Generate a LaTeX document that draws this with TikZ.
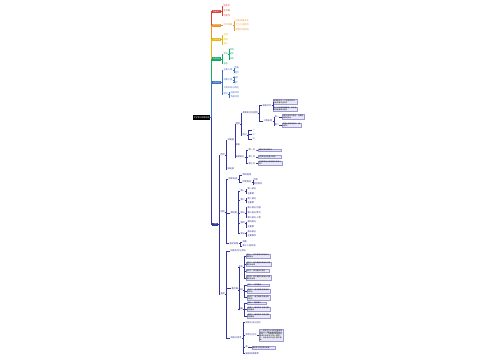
\documentclass[tikz,border=0pt]{standalone}
\usepackage{fontspec}
\setmainfont{Noto Sans CJK SC}
\XeTeXlinebreaklocale "zh"
\XeTeXlinebreakskip=0pt plus 0.5pt
\definecolor{redc}{HTML}{D9413A}
\definecolor{orangec}{HTML}{F0932B}
\definecolor{yellowc}{HTML}{E5B50B}
\definecolor{greenc}{HTML}{14A866}
\definecolor{bluec}{HTML}{3A6FC4}
\definecolor{navyc}{HTML}{33369A}
\definecolor{boxf}{HTML}{E9E9F8}
\definecolor{boxd}{HTML}{9A9AD6}
\newcommand\con[3]{\foreach \c in {#3}{\draw[line width=0.3pt,#1] (#2.east) -- ++(1,0) |- (\c.west);}}
\begin{document}
\begin{tikzpicture}[x=1pt,y=-1pt,
  lab/.style={inner sep=0.3pt,anchor=west,font=\fontsize{2.2}{2.4}\selectfont},
  brbox/.style={anchor=west,fill=#1,text=white,minimum width=8.5pt,minimum height=3.4pt,inner sep=0.3pt,font=\fontsize{1.8}{2}\selectfont},
  bx/.style={anchor=west,draw=boxd,fill=boxf,line width=0.2pt,text width=#1,align=left,inner sep=0.4pt,font=\fontsize{1.7}{1.95}\selectfont},
  nv/.style={lab,text=navyc}]
\useasboundingbox (0,0) rectangle (500,360);
\fill[white] (0,0) rectangle (500,360);
% root
\node[fill=black,text=white,minimum width=17pt,minimum height=4.5pt,inner sep=0.3pt,font=\fontsize{2}{2.2}\selectfont] (root) at (201.5,117.3) {文学常识思维导图};
% branches
\node[brbox=redc] (R) at (212,11.5) {作者简介};
\node[brbox=orangec] (O) at (212,25.3) {创作背景};
\node[brbox=yellowc] (Y) at (212,39.5) {主旨思想};
\node[brbox=greenc] (G) at (212,59) {艺术特色};
\node[brbox=bluec] (B) at (212,82.5) {人物形象};
\node[brbox=navyc,minimum width=6pt] (N) at (212,224.3) {内容};
\draw[line width=0.35pt,navyc] (root.east) -- ++(1,0) |- (N.west);
\foreach \b/\cl in {R/redc,O/orangec,Y/yellowc,G/greenc,B/bluec}{\draw[line width=0.35pt,\cl] (root.east) -- ++(1,0) |- (\b.west);}
% red
\node[lab,text=redc] (R1) at (223,5.7) {姓名字};
\node[lab,text=redc] (R2) at (223,10.7) {生平事};
\node[lab,text=redc] (R3) at (223,15.3) {代表作};
\con{redc}{R}{R1,R2,R3}
% orange
\node[lab,text=orangec] (O1) at (223,25) {时代背景};
\node[lab,text=orangec] (O1a) at (235,20.7) {社会环境变化};
\node[lab,text=orangec] (O1b) at (235,25) {个人人生经历};
\node[lab,text=orangec] (O1c) at (235,30) {思想文化影响};
\con{orangec}{O}{O1}
\con{orangec}{O1}{O1a,O1b,O1c}
% yellow
\node[lab,text=yellowc] (Y1) at (223,34.7) {主题};
\node[lab,text=yellowc] (Y2) at (223,39.3) {情感};
\node[lab,text=yellowc] (Y3) at (223,44) {意义};
\con{yellowc}{Y}{Y1,Y2,Y3}
% green
\node[lab,text=greenc] (G1) at (223,54) {手法};
\node[lab,text=greenc] (G1a) at (229,49.3) {修辞};
\node[lab,text=greenc] (G1b) at (229,54) {描写};
\node[lab,text=greenc] (G1c) at (229,58.7) {结构};
\node[lab,text=greenc] (G2) at (223,63.3) {语言};
\con{greenc}{G}{G1,G2}
\con{greenc}{G1}{G1a,G1b,G1c}
% blue
\node[lab,text=bluec] (B1) at (223,70) {主要人物};
\node[lab,text=bluec] (B1a) at (234,67.7) {性格};
\node[lab,text=bluec] (B1b) at (234,72.3) {经历};
\node[lab,text=bluec] (B2) at (223,80) {次要人物};
\node[lab,text=bluec] (B2a) at (233,77.3) {作用};
\node[lab,text=bluec] (B2b) at (233,82.3) {特点};
\node[lab,text=bluec] (B3) at (223,87.3) {人物关系与命运};
\node[lab,text=bluec] (B4) at (223,94) {评价};
\node[lab,text=bluec] (B4a) at (230,92.3) {正面评价};
\node[lab,text=bluec] (B4b) at (230,96.7) {负面评价};
\con{bluec}{B}{B1,B2,B3,B4}
\con{bluec}{B1}{B1a,B1b}
\con{bluec}{B2}{B2a,B2b}
\con{bluec}{B4}{B4a,B4b}
% navy: A
\node[nv] (A) at (220,155) {情节};
\node[nv] (A1) at (227,140) {开端部};
\node[nv] (A1a) at (235,124) {起因};
\node[nv] (A1a1) at (242,113) {故事发生的起因};
\node[nv] (A1a1a) at (262,105.5) {背景交代};
\node[bx=23.5pt] (A1a1a1) at (273,101.7) {故事发生在一个动荡的年代，社会矛盾日益尖锐};
\node[bx=23.5pt] (A1a1a2) at (273,109.3) {主人公出身普通家庭，自幼经历种种磨难与考验};
\node[nv] (A1a1b) at (263,121) {人物出场};
\node[nv] (A1a1b1) at (274,116.7) {其一};
\node[nv] (A1a1b2) at (274,124.8) {其二};
\node[bx=21pt] (A1a1b1x) at (282,116.7) {主要人物依次登场，性格特点鲜明突出};
\node[bx=18pt] (A1a1b2x) at (282,124.8) {次要人物穿插其间，推动情节};
\node[nv] (A1a2) at (242,135) {经过};
\node[nv] (A1a2a) at (252,130) {一};
\node[nv] (A1a2b) at (252,134.5) {二};
\node[nv] (A1a2c) at (252,139) {三};
\node[nv] (A1b) at (235,145) {发展};
\node[nv] (A1c) at (235,157) {高潮部分};
\node[nv] (A1c1) at (248,150) {第一点};
\node[nv] (A1c2) at (248,156.7) {第二点};
\node[nv] (A1c3) at (248,163.3) {第三点};
\node[bx=22pt] (A1c1x) at (258,150) {矛盾冲突达到顶点};
\node[bx=22pt] (A1c2x) at (258,156.7) {人物命运发生重大转折};
\node[bx=23pt] (A1c3x) at (258,163.3) {主题思想在此得到集中体现与升华};
\node[nv] (A2) at (227,169) {结局部};
\con{navyc}{N}{A}
\con{navyc}{A}{A1,A2}
\con{navyc}{A1}{A1a,A1b,A1c}
\con{navyc}{A1a}{A1a1,A1a2}
\con{navyc}{A1a1}{A1a1a,A1a1b}
\con{navyc}{A1a1a}{A1a1a1,A1a1a2}
\con{navyc}{A1a1b}{A1a1b1,A1a1b2}
\con{navyc}{A1a1b1}{A1a1b1x}
\con{navyc}{A1a1b2}{A1a1b2x}
\con{navyc}{A1a2}{A1a2a,A1a2b,A1a2c}
\con{navyc}{A1c}{A1c1,A1c2,A1c3}
\con{navyc}{A1c1}{A1c1x}
\con{navyc}{A1c2}{A1c2x}
\con{navyc}{A1c3}{A1c3x}
% navy: Bn
\node[nv] (Bn) at (220,211.7) {结构};
\node[nv] (Bn1) at (228,178.7) {线索安排};
\node[nv] (Bn1a) at (242,175) {明线暗线};
\node[nv] (Bn1b) at (242,182) {伏笔照应};
\node[nv] (Bn1b1) at (253,180) {伏笔};
\node[nv] (Bn1b2) at (253,184) {前后照应};
\node[nv] (Bn2) at (230,212.7) {章回制};
\node[nv] (Bn2a) at (240,191) {第一};
\node[nv] (Bn2a1) at (247,189) {第一部分};
\node[nv] (Bn2a2) at (247,193.5) {主要事};
\node[nv] (Bn2b) at (240,200) {第二};
\node[nv] (Bn2b1) at (247,198.3) {第二部分};
\node[nv] (Bn2b2) at (247,202.5) {主要事};
\node[nv] (Bn2c) at (240,212.7) {第三};
\node[nv] (Bn2c1) at (247,207.5) {第三部分内容};
\node[nv] (Bn2c2) at (247,212.7) {第三部分情节};
\node[nv] (Bn2c3) at (247,217.5) {第三部分人物};
\node[nv] (Bn2d) at (240,222.7) {第四};
\node[nv] (Bn2d1) at (247,221.7) {第四部分};
\node[nv] (Bn2d2) at (247,226.7) {主要事};
\node[nv] (Bn2e) at (240,233.3) {第五};
\node[nv] (Bn2e1) at (247,231.7) {第五部分};
\node[nv] (Bn2e2) at (247,235.7) {主要事件};
\node[nv] (Bn3) at (229,243.3) {叙述视角};
\node[nv] (Bn3a) at (242,241.7) {视角};
\node[nv] (Bn3b) at (242,245.7) {第三人称叙述};
\con{navyc}{N}{Bn}
\con{navyc}{Bn}{Bn1,Bn2,Bn3}
\con{navyc}{Bn1}{Bn1a,Bn1b}
\con{navyc}{Bn1b}{Bn1b1,Bn1b2}
\con{navyc}{Bn2}{Bn2a,Bn2b,Bn2c,Bn2d,Bn2e}
\con{navyc}{Bn2a}{Bn2a1,Bn2a2}
\con{navyc}{Bn2b}{Bn2b1,Bn2b2}
\con{navyc}{Bn2c}{Bn2c1,Bn2c2,Bn2c3}
\con{navyc}{Bn2d}{Bn2d1,Bn2d2}
\con{navyc}{Bn2e}{Bn2e1,Bn2e2}
\con{navyc}{Bn3}{Bn3a,Bn3b}
% navy: D
\node[nv] (D) at (220,294) {鉴赏};
\node[nv] (C) at (230,251) {经典名句与赏析};
\node[nv] (D2) at (231,288.3) {重点篇};
\node[nv] (D2a) at (238,267) {名句};
\node[bx=23pt] (D2a1) at (246,256) {名句一：原文摘录及其出处与简要赏析};
\node[bx=24pt] (D2a2) at (246,264.3) {名句二：原文摘录及其出处与简要赏析说明};
\node[bx=22pt] (D2a3) at (246,270.7) {名句三：原文摘录与赏析};
\node[bx=24pt] (D2a4) at (246,277.7) {名句四：原文摘录及其出处与简要赏析说明};
\node[nv] (D2b) at (238,290) {名段};
\node[bx=21pt] (D2b1) at (247,285) {名段一：原文摘录};
\node[bx=22pt] (D2b2) at (247,291) {名段二：原文摘录及其出处与赏析};
\node[bx=22pt] (D2b3) at (247,297.5) {名段三：原文摘录及其出处与赏析};
\node[nv] (D2c) at (238,309) {名篇};
\node[bx=18pt] (D2c1) at (247,303.3) {名篇一：篇目简介};
\node[bx=22pt] (D2c2) at (247,309.3) {名篇二：篇目简介及其主要内容概述};
\node[bx=22pt] (D2c3) at (247,316) {名篇三：篇目简介及其主要内容概述};
\node[nv] (E) at (230,338) {阅读与思考};
\node[nv] (E1) at (245,322.5) {阅读方法与技巧};
\node[nv] (E2) at (245,335) {思考与讨论};
\node[bx=23pt] (E2x) at (259,335.3) {一、作品中主人公的性格有哪些特点？请结合具体情节加以分析。二、作品是如何通过环境描写来烘托人物心理的？三、谈谈你对作品主题的理解。};
\node[nv] (E3) at (245,347) {练};
\node[bx=22pt] (E3x) at (252,347.5) {课后练习题及参考答案};
\node[nv] (E4) at (245,353.3) {拓展阅读推荐};
\con{navyc}{N}{D}
\con{navyc}{D}{C,D2,E}
\con{navyc}{D2}{D2a,D2b,D2c}
\con{navyc}{D2a}{D2a1,D2a2,D2a3,D2a4}
\con{navyc}{D2b}{D2b1,D2b2,D2b3}
\con{navyc}{D2c}{D2c1,D2c2,D2c3}
\con{navyc}{E}{E1,E2,E3,E4}
\con{navyc}{E2}{E2x}
\con{navyc}{E3}{E3x}
\end{tikzpicture}
\end{document}
